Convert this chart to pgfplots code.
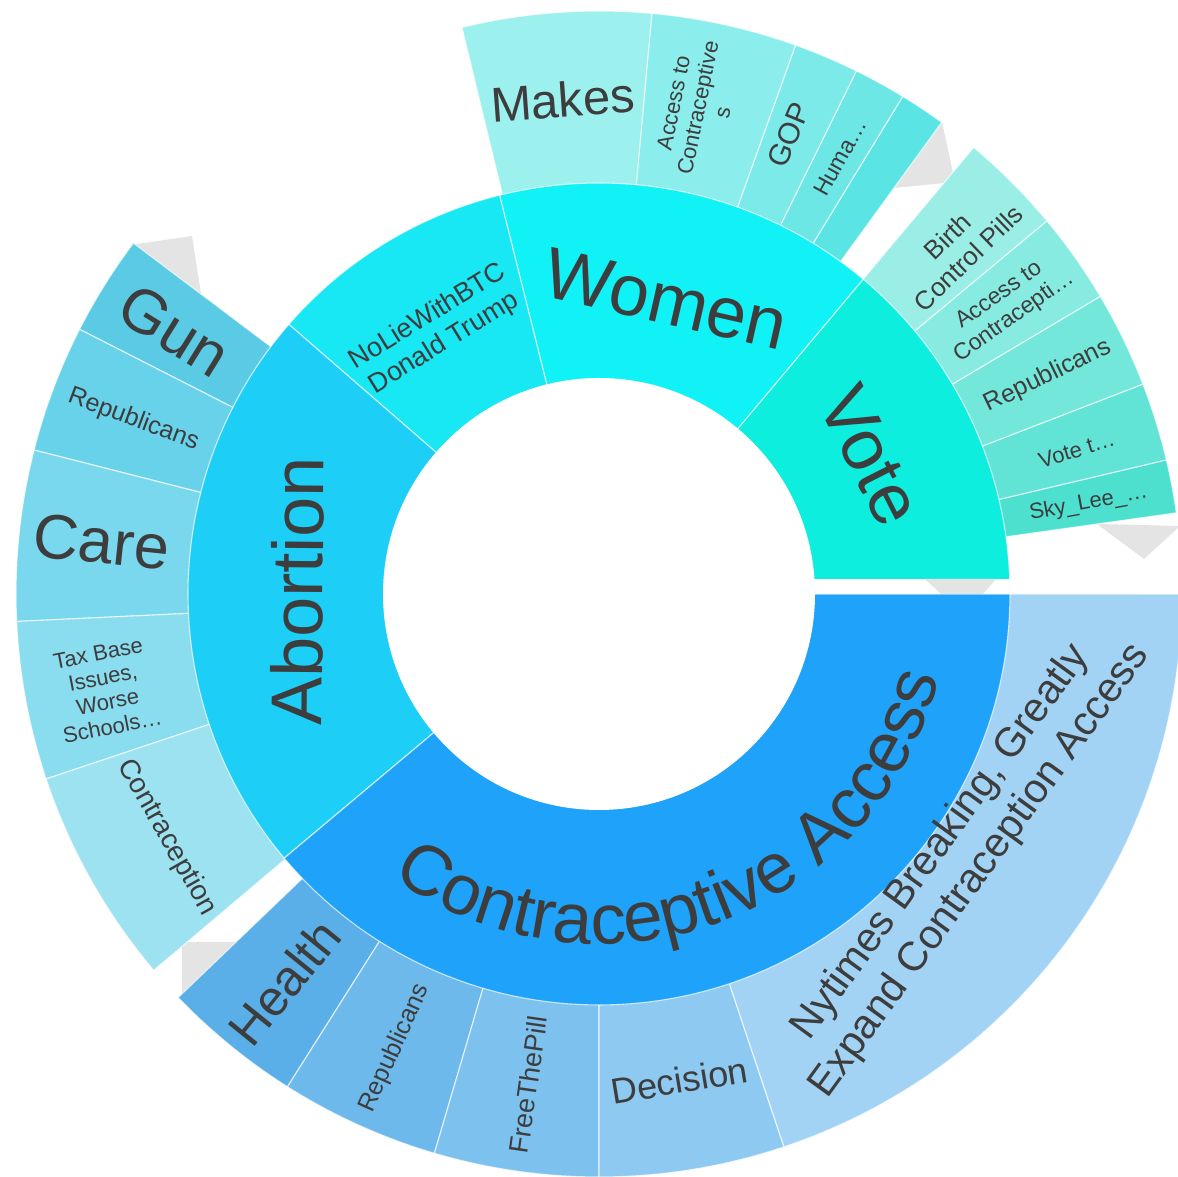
\documentclass[border=0pt]{standalone}
\usepackage{pgfplots}
\pgfplotsset{compat=1.18}
\usepackage{fontspec}
\setmainfont{Liberation Sans}
\usetikzlibrary{decorations.text}

\definecolor{labelgray}{HTML}{3D3D3D}
\definecolor{shadow}{HTML}{E4E4E4}
% middle ring
\definecolor{cVote}{HTML}{0EEEDE}
\definecolor{cWomen}{HTML}{10F2F5}
\definecolor{cNoLie}{HTML}{17E8F4}
\definecolor{cAbortion}{HTML}{1DCEF7}
\definecolor{cCA}{HTML}{1FA2FA}
% abortion children
\definecolor{aGun}{HTML}{5BCBE5}
\definecolor{aRep}{HTML}{68D2EA}
\definecolor{aCare}{HTML}{7AD8EE}
\definecolor{aTax}{HTML}{8ADCEF}
\definecolor{aContra}{HTML}{9CE2F1}
% women children
\definecolor{wMakes}{HTML}{9CF0EE}
\definecolor{wAccess}{HTML}{8BEDEC}
\definecolor{wGOP}{HTML}{7BEAE9}
\definecolor{wHuma}{HTML}{6CE7E6}
\definecolor{wLast}{HTML}{5BE4E4}
% vote children
\definecolor{vBirth}{HTML}{9AEEE6}
\definecolor{vAccess}{HTML}{87EBE1}
\definecolor{vRep}{HTML}{74E7DB}
\definecolor{vVote}{HTML}{61E3D5}
\definecolor{vSky}{HTML}{4EE0CF}
% contraceptive access children
\definecolor{kHealth}{HTML}{5AAFE8}
\definecolor{kRep}{HTML}{6EB9EC}
\definecolor{kFree}{HTML}{7DC1EF}
\definecolor{kDecision}{HTML}{8DC9F1}
\definecolor{kNyt}{HTML}{A2D3F4}

% sector: start angle, end angle, outer radius, colour
\newcommand{\sector}[4]{%
  \addplot[fill=#4, draw=white, draw opacity=0.7, line width=1.1pt,
    data cs=polar, domain=#1:#2, samples=90] {#3} -- (axis cs:0,0) -- cycle;}
% label: angle, radius, rotation, size, baselineskip, text
\newcommand{\lab}[6]{%
  \node[rotate=#3, align=center, text=labelgray, inner sep=0pt,
    font=\fontsize{#4}{#5}\selectfont]
    at (axis cs:{#2*cos(#1)},{#2*sin(#1)}) {#6};}

\begin{document}
\begin{tikzpicture}
\begin{axis}[x=1pt, y=1pt, xmin=-599, xmax=579, ymin=-583, ymax=594,
  hide axis, enlargelimits=false, clip=true]

% grey shadows
\addplot[fill=shadow, draw=none] coordinates {(-469,349) (-407,358) (-397,294)};
\addplot[fill=shadow, draw=none] coordinates {(343,472) (356,412) (295,406)};
\addplot[fill=shadow, draw=none] coordinates {(498,70) (545,35) (581,68)};
\addplot[fill=shadow, draw=none] coordinates {(-417,-348) (-358,-348) (-417,-409)};

% outer ring: Abortion
\sector{143}{153}{583}{aGun}
\sector{153}{165.7}{583}{aRep}
\sector{165.7}{182.7}{583}{aCare}
\sector{182.7}{198.5}{583}{aTax}
\sector{198.5}{220.2}{583}{aContra}
% outer ring: Women
\sector{54}{58.6}{583}{wLast}
\sector{58.6}{63.8}{583}{wHuma}
\sector{63.8}{70.3}{583}{wGOP}
\sector{70.3}{84.8}{583}{wAccess}
\sector{84.8}{103.6}{583}{wMakes}
% outer ring: Vote
\sector{8}{13.3}{583}{vSky}
\sector{13.3}{21.1}{583}{vVote}
\sector{21.1}{30.7}{583}{vRep}
\sector{30.7}{39.8}{583}{vAccess}
\sector{39.8}{50}{583}{vBirth}
% outer ring: Contraceptive Access
\sector{223.8}{237.7}{583}{kHealth}
\sector{237.7}{253.6}{583}{kRep}
\sector{253.6}{270}{583}{kFree}
\sector{270}{288.5}{583}{kDecision}
\sector{288.5}{360}{583}{kNyt}

% middle ring
\sector{0}{50}{411}{cVote}
\sector{50}{104}{411}{cWomen}
\sector{104}{139}{411}{cNoLie}
\sector{139}{220}{411}{cAbortion}
\sector{220}{360}{411}{cCA}

% gap between Vote and Contraceptive Access, with its shadow
\addplot[fill=white, draw=none] coordinates {(200,-0.5) (414,-0.5) (414,15) (200,15)};
\addplot[fill=shadow, draw=none] coordinates {(326,15) (397,15) (384,0) (342,0)};

% hole
\fill[white] (axis cs:0,0) circle[radius=216pt];

% middle labels
\lab{179.5}{302}{89.5}{72}{80}{Abortion}
\lab{121.7}{310}{31.7}{27}{31}{NoLieWithBTC\\Donald Trump}
\lab{77.2}{302}{-12.8}{72}{80}{Women}
\lab{27}{305}{-63}{72}{80}{Vote}
\path[decorate, decoration={text along path, text align=center,
  text={|\color{labelgray}\fontsize{71}{71}\selectfont|Contraceptive Access}}]
  (axis cs:{350*cos(220)},{350*sin(220)}) arc[start angle=220, end angle=360, radius=350pt];

% outer labels
\lab{148.2}{500}{-31.8}{62}{70}{Gun}
\lab{159.5}{497}{-20.5}{25}{29}{Republicans}
\lab{174}{500}{-6}{63}{70}{Care}
\lab{191}{503}{11}{22}{25}{Tax Base\\Issues,\\Worse\\Schools\ldots}
\lab{209.4}{496}{-60.6}{28}{32}{Contraception}
\lab{94.2}{496}{4.2}{49}{55}{Makes}
\lab{78.5}{496}{78.5}{22}{25}{Access to\\Contraceptive\\s}
\lab{67.5}{497}{67.5}{30}{34}{GOP}
\lab{61.1}{499}{61.1}{23}{26}{Huma\ldots}
\lab{44}{499}{44}{26}{30}{Birth\\Control Pills}
\lab{35.2}{499}{35.2}{23}{26}{Access to\\Contracepti\ldots}
\lab{25.9}{499}{25.9}{25}{29}{Republicans}
\lab{16.8}{499}{16.8}{22}{25}{Vote t\ldots}
\lab{10.5}{498}{10.5}{22}{25}{Sky\_Lee\_\ldots}
\lab{231}{500}{51}{50}{56}{Health}
\lab{245.8}{498}{65.8}{25}{29}{Republicans}
\lab{261.8}{496}{81.8}{27}{31}{FreeThePill}
\lab{279.4}{493}{9.4}{36}{40}{Decision}
\lab{324}{447}{54}{41}{48}{Nytimes Breaking, Greatly\\Expand Contraception Access}

\end{axis}
\pgfresetboundingbox
\path[use as bounding box] (current axis.south west) rectangle (current axis.north east);
\end{tikzpicture}
\end{document}
